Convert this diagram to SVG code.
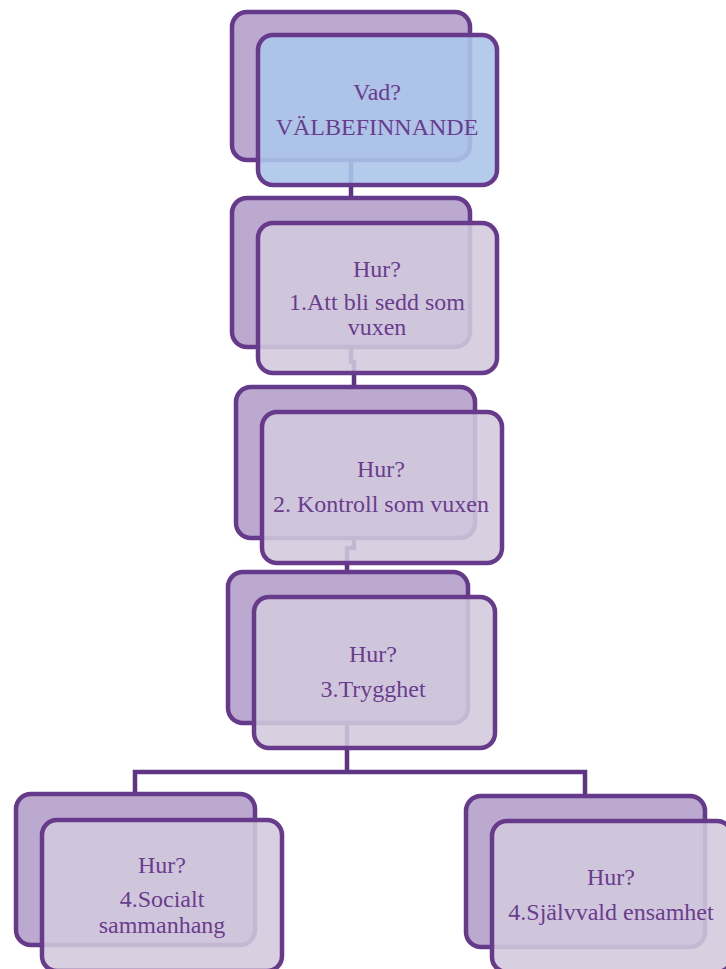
<svg xmlns="http://www.w3.org/2000/svg" width="726" height="969" viewBox="0 0 726 969">
<style>
.back{fill:#bba9d0;stroke:#663a8a;stroke-width:4.5}
.front{fill:#d3cadd;fill-opacity:0.88;stroke:#673a8b;stroke-width:4.5}
.blue{fill:#acc5ea;fill-opacity:0.9}
.conn{fill:none;stroke:#5e3584;stroke-width:4.5}
text{font-family:"Liberation Serif","Times New Roman",serif;font-size:24px;fill:#6a3c8e;text-anchor:middle}
</style>
<rect width="726" height="969" fill="#ffffff"/>
<g id="connectors">
<path class="conn" d="M351 160 V198"/>
<path class="conn" d="M351 347 V362 H354 V387"/>
<path class="conn" d="M354 538 V548 H347 V572"/>
<path class="conn" d="M347 723 V772 M135 793 V772 H585 V795"/>
</g>
<g id="n1">
<rect class="back" x="232" y="12" width="238" height="148" rx="15"/>
<rect class="front blue" x="258" y="35" width="239" height="150" rx="15"/>
<text x="377" y="100">Vad?</text>
<text x="377" y="135">VÄLBEFINNANDE</text>
</g>
<g id="n2">
<rect class="back" x="232" y="198" width="238" height="149" rx="15"/>
<rect class="front" x="258" y="223" width="239" height="150" rx="15"/>
<text x="377" y="277">Hur?</text>
<text x="377" y="310">1.Att bli sedd som</text>
<text x="377" y="335">vuxen</text>
</g>
<g id="n3">
<rect class="back" x="236" y="387" width="239" height="151" rx="15"/>
<rect class="front" x="262" y="412" width="240" height="151" rx="15"/>
<text x="381" y="477">Hur?</text>
<text x="381" y="512">2. Kontroll som vuxen</text>
</g>
<g id="n4">
<rect class="back" x="228" y="572" width="240" height="151" rx="15"/>
<rect class="front" x="254" y="597" width="241" height="151" rx="15"/>
<text x="373" y="662">Hur?</text>
<text x="373" y="697">3.Trygghet</text>
</g>
<g id="n5">
<rect class="back" x="16" y="794" width="239" height="151" rx="15"/>
<rect class="front" x="42" y="820" width="240" height="151" rx="15"/>
<text x="162" y="873">Hur?</text>
<text x="162" y="907">4.Socialt</text>
<text x="162" y="933">sammanhang</text>
</g>
<g id="n6">
<rect class="back" x="466" y="796" width="239" height="151" rx="15"/>
<rect class="front" x="492" y="821" width="240" height="151" rx="15"/>
<text x="611" y="885">Hur?</text>
<text x="611" y="920">4.Självvald ensamhet</text>
</g>
</svg>
